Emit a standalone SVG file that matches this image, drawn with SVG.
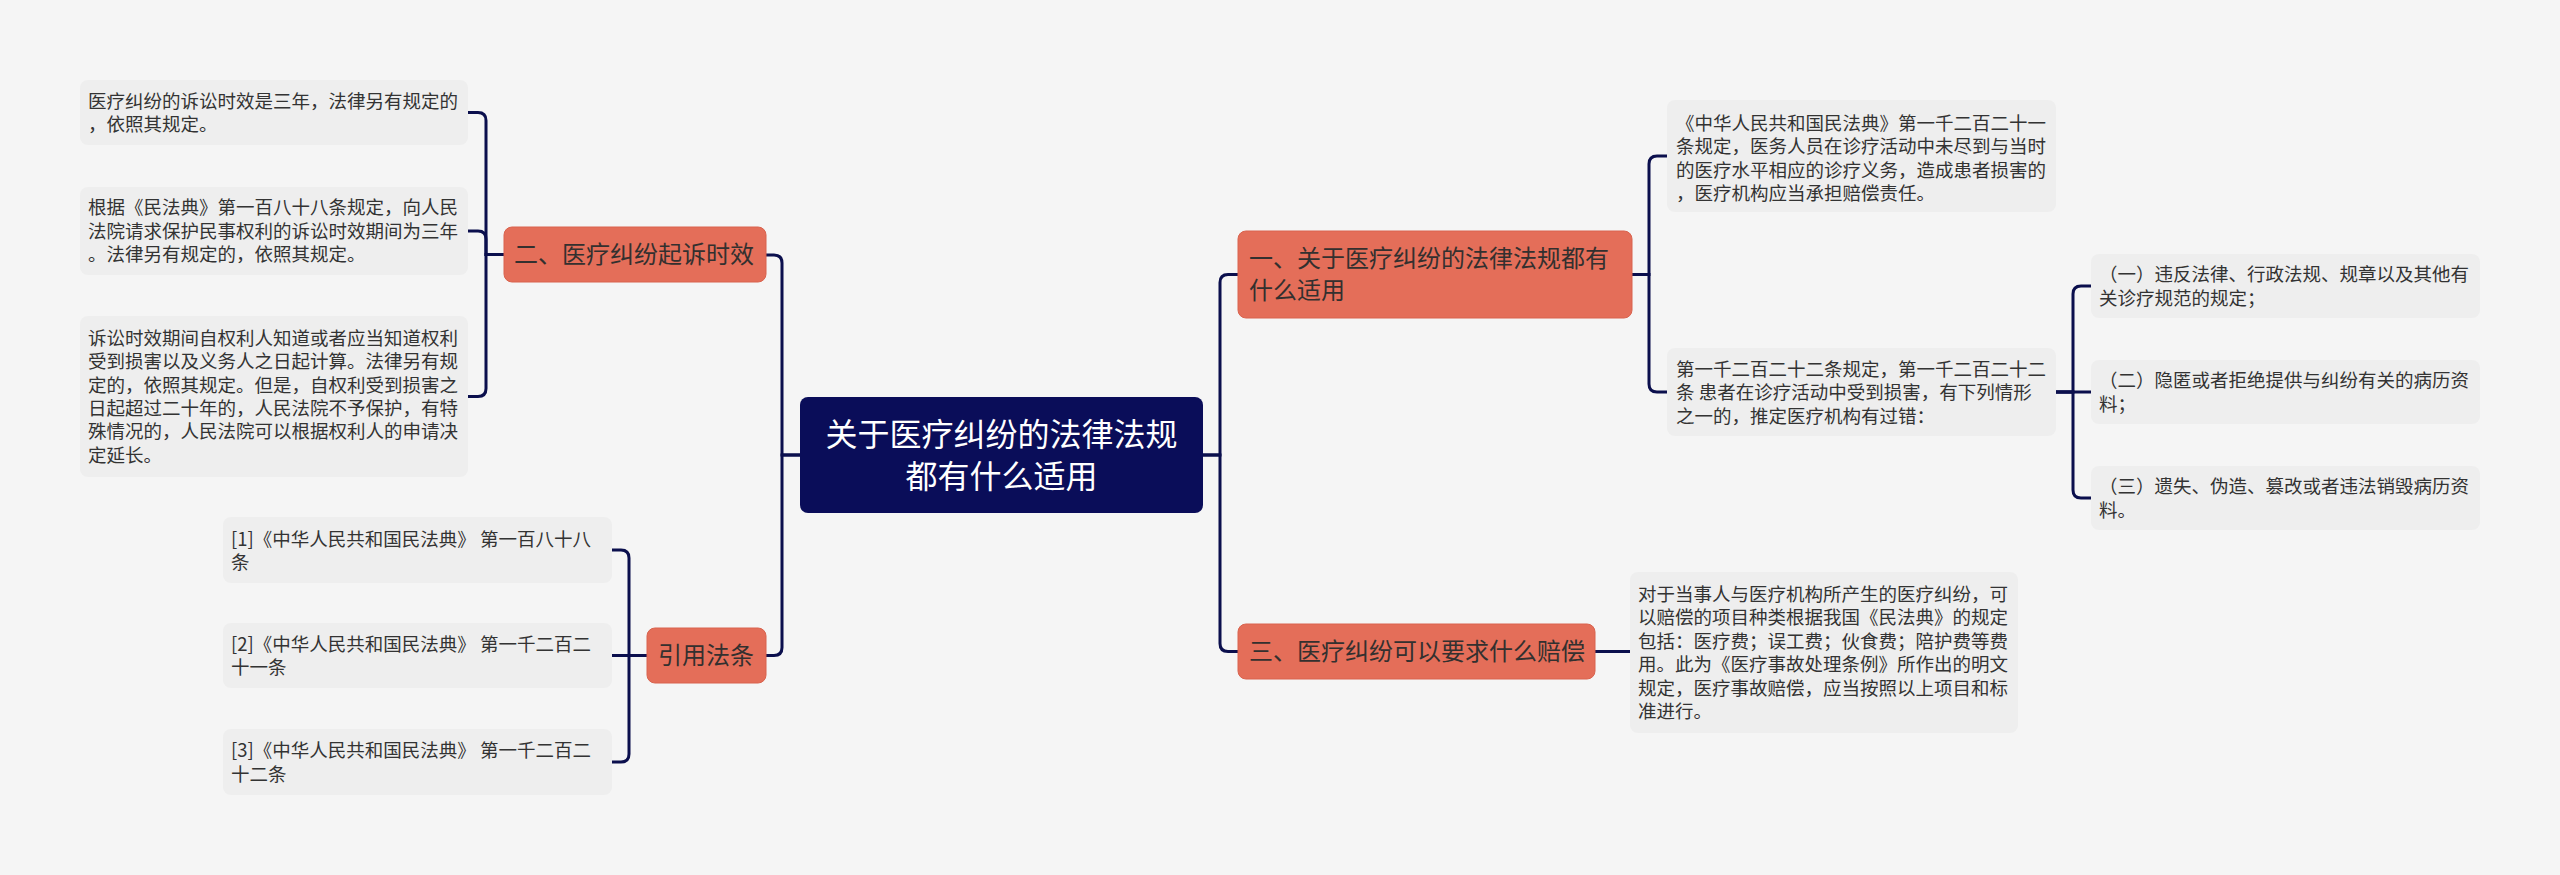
<svg xmlns="http://www.w3.org/2000/svg" width="2560" height="875" viewBox="0 0 2560 875">
<style>
text{font-family:"Noto Sans CJK SC","Noto Sans",sans-serif;}
.leaf rect{fill:#eeeeee;}
.leaf text{font-size:18.5px;fill:#333333;}
.sub rect{fill:#e46e59;stroke:#d9634e;stroke-width:1;}
.sub text{font-size:24px;fill:#33302f;}
.root rect{fill:#0a0d59;}
.root text{font-size:32px;fill:#ffffff;text-anchor:middle;}
.conn path{fill:none;stroke:#0b0f4d;stroke-width:3;stroke-linecap:round;}
</style>
<rect x="0" y="0" width="2560" height="875" fill="#f5f5f5"/>

<g id="connectors" class="conn">
<path d="M800,455 H782 V263 Q782,255 774,255 H766"/>
<path d="M800,455 H782 V647.5 Q782,655.5 774,655.5 H766"/>
<path d="M504,254.5 H486 V120.5 Q486,112.5 478,112.5 H468"/>
<path d="M504,254.5 H486 V239 Q486,231 478,231 H468"/>
<path d="M504,254.5 H486 V388.5 Q486,396.5 478,396.5 H468"/>
<path d="M647,655.5 H629 V558 Q629,550 621,550 H612"/>
<path d="M647,655.5 H612"/>
<path d="M647,655.5 H629 V754 Q629,762 621,762 H612"/>
<path d="M1203,455 H1220 V282.5 Q1220,274.5 1228,274.5 H1238"/>
<path d="M1203,455 H1220 V643.5 Q1220,651.5 1228,651.5 H1238"/>
<path d="M1632,274.5 H1649 V164 Q1649,156 1657,156 H1667"/>
<path d="M1632,274.5 H1649 V384 Q1649,392 1657,392 H1667"/>
<path d="M2056,392 H2073 V294 Q2073,286 2081,286 H2091"/>
<path d="M2056,392 H2091"/>
<path d="M2056,392 H2073 V490 Q2073,498 2081,498 H2091"/>
<path d="M1595,651.5 H1630"/>
</g>

<g id="root" class="root">
<rect x="800" y="397" width="403" height="116" rx="8"/>
<text x="1001.5" y="445.5">关于医疗纠纷的法律法规</text>
<text x="1001.5" y="487.5">都有什么适用</text>
</g>

<g id="n2" class="sub">
<rect x="504" y="227" width="262" height="55" rx="8"/>
<text x="514" y="263">二、医疗纠纷起诉时效</text>
</g>

<g id="n2a" class="leaf">
<rect x="80" y="80" width="388" height="65" rx="8"/>
<text x="88" y="107.5">医疗纠纷的诉讼时效是三年，法律另有规定的</text>
<text x="88" y="131">，依照其规定。</text>
</g>

<g id="n2b" class="leaf">
<rect x="80" y="187" width="388" height="88" rx="8"/>
<text x="88" y="214.3">根据《民法典》第一百八十八条规定，向人民</text>
<text x="88" y="237.7">法院请求保护民事权利的诉讼时效期间为三年</text>
<text x="88" y="261.1">。法律另有规定的，依照其规定。</text>
</g>

<g id="n2c" class="leaf">
<rect x="80" y="316" width="388" height="161" rx="8"/>
<text x="88" y="344.7">诉讼时效期间自权利人知道或者应当知道权利</text>
<text x="88" y="368.1">受到损害以及义务人之日起计算。法律另有规</text>
<text x="88" y="391.5">定的，依照其规定。但是，自权利受到损害之</text>
<text x="88" y="414.9">日起超过二十年的，人民法院不予保护，有特</text>
<text x="88" y="438.3">殊情况的，人民法院可以根据权利人的申请决</text>
<text x="88" y="461.7">定延长。</text>
</g>

<g id="n4" class="sub">
<rect x="647" y="628" width="119" height="55" rx="8"/>
<text x="658" y="664">引用法条</text>
</g>

<g id="n4a" class="leaf">
<rect x="223" y="517" width="389" height="66" rx="8"/>
<text x="231" y="545.5">[1]《中华人民共和国民法典》 第一百八十八</text>
<text x="231" y="569">条</text>
</g>

<g id="n4b" class="leaf">
<rect x="223" y="623" width="389" height="65" rx="8"/>
<text x="231" y="650.5">[2]《中华人民共和国民法典》 第一千二百二</text>
<text x="231" y="674">十一条</text>
</g>

<g id="n4c" class="leaf">
<rect x="223" y="729" width="389" height="66" rx="8"/>
<text x="231" y="757">[3]《中华人民共和国民法典》 第一千二百二</text>
<text x="231" y="780.5">十二条</text>
</g>

<g id="n1" class="sub">
<rect x="1238" y="231" width="394" height="87" rx="8"/>
<text x="1249" y="267">一、关于医疗纠纷的法律法规都有</text>
<text x="1249" y="299">什么适用</text>
</g>

<g id="n1a" class="leaf">
<rect x="1667" y="100" width="389" height="112" rx="8"/>
<text x="1676" y="129.5">《中华人民共和国民法典》第一千二百二十一</text>
<text x="1676" y="153">条规定，医务人员在诊疗活动中未尽到与当时</text>
<text x="1676" y="176.5">的医疗水平相应的诊疗义务，造成患者损害的</text>
<text x="1676" y="200">，医疗机构应当承担赔偿责任。</text>
</g>

<g id="n1b" class="leaf">
<rect x="1667" y="348" width="389" height="88" rx="8"/>
<text x="1676" y="375.5">第一千二百二十二条规定，第一千二百二十二</text>
<text x="1676" y="399">条 患者在诊疗活动中受到损害，有下列情形</text>
<text x="1676" y="422.5">之一的，推定医疗机构有过错：</text>
</g>

<g id="n1b1" class="leaf">
<rect x="2091" y="254" width="389" height="64" rx="8"/>
<text x="2099" y="281">（一）违反法律、行政法规、规章以及其他有</text>
<text x="2099" y="304.5">关诊疗规范的规定；</text>
</g>

<g id="n1b2" class="leaf">
<rect x="2091" y="360" width="389" height="64" rx="8"/>
<text x="2099" y="387">（二）隐匿或者拒绝提供与纠纷有关的病历资</text>
<text x="2099" y="410.5">料；</text>
</g>

<g id="n1b3" class="leaf">
<rect x="2091" y="466" width="389" height="64" rx="8"/>
<text x="2099" y="493">（三）遗失、伪造、篡改或者违法销毁病历资</text>
<text x="2099" y="516.5">料。</text>
</g>

<g id="n3" class="sub">
<rect x="1238" y="624" width="357" height="55" rx="8"/>
<text x="1249" y="660">三、医疗纠纷可以要求什么赔偿</text>
</g>

<g id="n3a" class="leaf">
<rect x="1630" y="572" width="388" height="161" rx="8"/>
<text x="1638" y="601">对于当事人与医疗机构所产生的医疗纠纷，可</text>
<text x="1638" y="624.4">以赔偿的项目种类根据我国《民法典》的规定</text>
<text x="1638" y="647.8">包括：医疗费；误工费；伙食费；陪护费等费</text>
<text x="1638" y="671.2">用。此为《医疗事故处理条例》所作出的明文</text>
<text x="1638" y="694.6">规定，医疗事故赔偿，应当按照以上项目和标</text>
<text x="1638" y="718">准进行。</text>
</g>
</svg>
